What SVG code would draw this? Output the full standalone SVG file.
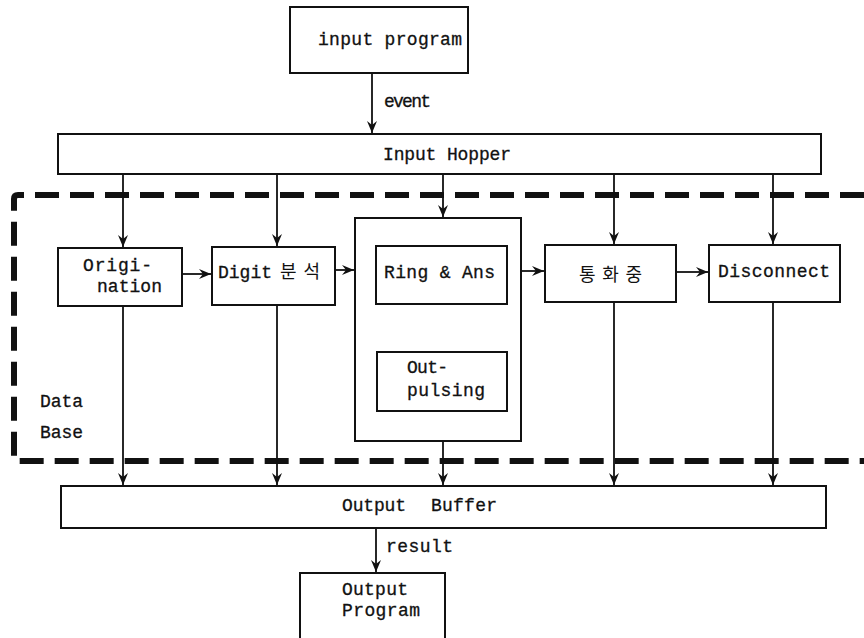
<svg xmlns="http://www.w3.org/2000/svg" width="864" height="638" viewBox="0 0 864 638">
<style>
.box{fill:#fff;stroke:#111;stroke-width:2}
.t{font-family:"Liberation Mono","DejaVu Sans Mono",monospace;font-size:18px;fill:#111;stroke:#111;stroke-width:0.3}
.k{font-family:"Noto Sans CJK KR",sans-serif;font-size:18px;fill:#111}
.c{stroke:#111;stroke-width:1.8;fill:none}
.db{stroke:#111;stroke-width:6;fill:none;stroke-dasharray:24 11}
</style>
<defs>
<marker id="ah" markerUnits="userSpaceOnUse" markerWidth="12" markerHeight="12" viewBox="0 0 12 10" refX="12" refY="5" orient="auto">
<path d="M0,0 L12,5 L0,10 L4,5 z" fill="#111"/>
</marker>
</defs>
<rect width="864" height="638" fill="#fff"/>

<g id="database">
<path class="db" d="M864,195 H18 Q14,195 14,199 V461 H864"/>
<text class="t" x="40" y="407" textLength="43" lengthAdjust="spacing">Data</text>
<text class="t" x="40" y="438" textLength="43" lengthAdjust="spacing">Base</text>
</g>

<g id="input-program">
<rect class="box" x="290" y="7" width="178" height="66"/>
<text class="t" x="318" y="45" textLength="144" lengthAdjust="spacing">input program</text>
</g>

<g id="input-hopper">
<rect class="box" x="58" y="134" width="763" height="40"/>
<text class="t" x="383" y="160" textLength="128" lengthAdjust="spacing">Input Hopper</text>
</g>

<g id="origination">
<rect class="box" x="58" y="248" width="124" height="58"/>
<text class="t" x="83" y="271" textLength="69" lengthAdjust="spacing">Origi-</text>
<text class="t" x="97" y="292" textLength="65" lengthAdjust="spacing">nation</text>
</g>

<g id="digit">
<rect class="box" x="212" y="247" width="123" height="58"/>
<text class="t" x="218" y="278" textLength="54" lengthAdjust="spacing">Digit</text>
<text class="k" x="280" y="278" textLength="40" lengthAdjust="spacing">분석</text>
</g>

<g id="central">
<rect class="box" x="355" y="218" width="166" height="223"/>
</g>

<g id="ring-ans">
<rect class="box" x="376" y="246" width="131" height="58"/>
<text class="t" x="384" y="278" textLength="111" lengthAdjust="spacing">Ring &amp; Ans</text>
</g>

<g id="outpulsing">
<rect class="box" x="377" y="352" width="130" height="59"/>
<text class="t" x="407" y="373" textLength="41" lengthAdjust="spacing">Out-</text>
<text class="t" x="407" y="396" textLength="78" lengthAdjust="spacing">pulsing</text>
</g>

<g id="busy">
<rect class="box" x="545" y="245" width="131" height="57"/>
<text class="k" x="579" y="281" textLength="63" lengthAdjust="spacing">통화중</text>
</g>

<g id="disconnect">
<rect class="box" x="709" y="245" width="131" height="57"/>
<text class="t" x="718" y="277" textLength="112" lengthAdjust="spacing">Disconnect</text>
</g>

<g id="output-buffer">
<rect class="box" x="61" y="486" width="765" height="42"/>
<text class="t" x="342" y="511" textLength="64" lengthAdjust="spacing">Output</text>
<text class="t" x="431" y="511" textLength="66" lengthAdjust="spacing">Buffer</text>
</g>

<g id="output-program">
<path class="box" d="M300,640 V573 H445 V640"/>
<text class="t" x="342" y="595" textLength="66" lengthAdjust="spacing">Output</text>
<text class="t" x="342" y="616" textLength="78" lengthAdjust="spacing">Program</text>
</g>

<g id="connectors">
<path class="c" d="M372,73 V133" marker-end="url(#ah)"/>
<text class="t" x="384" y="107" textLength="47" lengthAdjust="spacing">event</text>
<path class="c" d="M123,174 V247" marker-end="url(#ah)"/>
<path class="c" d="M277,174 V246" marker-end="url(#ah)"/>
<path class="c" d="M443,174 V217" marker-end="url(#ah)"/>
<path class="c" d="M614,174 V244" marker-end="url(#ah)"/>
<path class="c" d="M773,174 V244" marker-end="url(#ah)"/>
<path class="c" d="M182,274 H211" marker-end="url(#ah)"/>
<path class="c" d="M335,270 H354" marker-end="url(#ah)"/>
<path class="c" d="M521,271 H544" marker-end="url(#ah)"/>
<path class="c" d="M676,272 H708" marker-end="url(#ah)"/>
<path class="c" d="M123,306 V485" marker-end="url(#ah)"/>
<path class="c" d="M277,305 V485" marker-end="url(#ah)"/>
<path class="c" d="M443,441 V485" marker-end="url(#ah)"/>
<path class="c" d="M614,302 V485" marker-end="url(#ah)"/>
<path class="c" d="M773,302 V485" marker-end="url(#ah)"/>
<path class="c" d="M376,528 V572" marker-end="url(#ah)"/>
<text class="t" x="386" y="552" textLength="67" lengthAdjust="spacing">result</text>
</g>
</svg>
